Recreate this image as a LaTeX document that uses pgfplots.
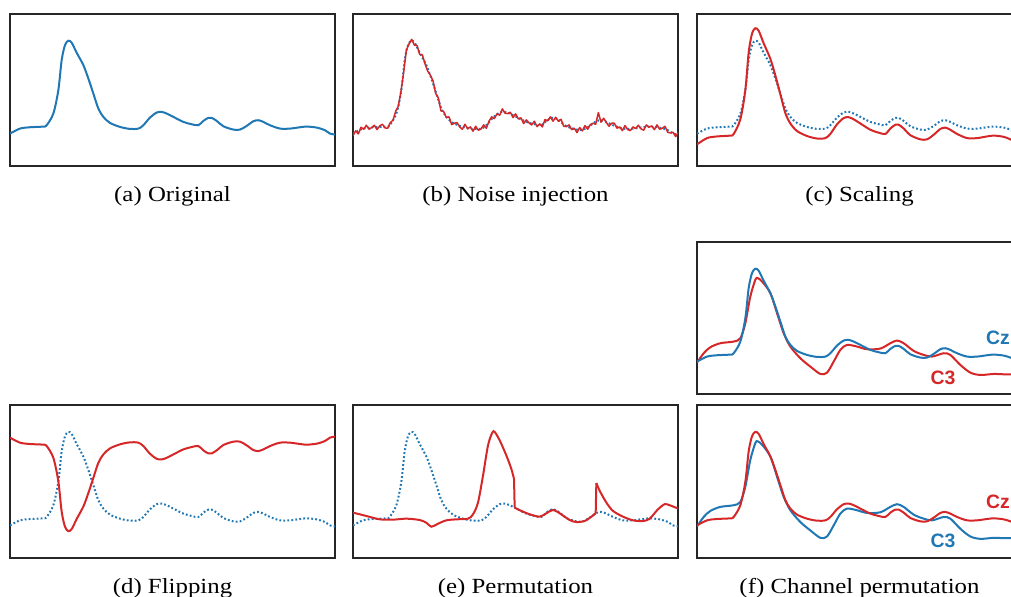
\documentclass[border=0pt]{standalone}
\usepackage{pgfplots}
\usepackage{pgfplotstable}
\pgfplotsset{compat=1.18}
\usepackage{fontspec}
\setmainfont{Liberation Serif}[FakeStretch=1.15]
\setsansfont{Liberation Sans}
\definecolor{cblue}{RGB}{31,119,180}
\definecolor{cred}{RGB}{214,39,40}

\pgfplotstableread{
x y
0 358
30 343
60 339
100 337
110 333
130 298
145 228
155 138
165 93
175 80
185 86
200 116
220 153
235 193
250 238
265 283
280 308
300 326
330 338
360 344
385 343
400 333
420 310
440 295
455 293
470 298
490 308
520 323
545 330
565 333
580 320
595 311
605 311
620 320
640 336
670 346
690 346
710 335
730 321
745 318
760 323
780 333
810 343
840 343
870 339
890 337
920 340
945 348
960 358
975 361
}\orig

\pgfplotstableread{
x y
0 364
8 350
16 359
24 339
32 345
40 333
48 345
56 340
64 333
72 346
80 335
88 330
96 341
104 342
112 325
120 318
128 291
136 276
144 231
152 174
160 108
168 90
176 76
184 93
192 94
200 121
208 122
216 149
224 171
232 183
240 200
248 238
256 251
264 290
272 292
280 310
288 308
296 331
304 327
312 325
320 338
328 345
336 330
344 344
352 338
360 351
368 336
376 348
384 344
392 332
400 342
408 321
416 308
424 313
432 299
440 303
448 284
456 297
464 298
472 294
480 310
488 299
496 314
504 311
512 328
520 317
528 326
536 332
544 321
552 337
560 329
568 338
576 316
584 320
592 308
600 321
608 309
616 321
624 315
632 336
640 337
648 332
656 346
664 342
672 355
680 340
688 350
696 334
704 345
712 331
720 327
728 330
736 295
744 324
752 312
760 325
768 336
776 327
784 327
792 342
800 338
808 349
816 334
824 346
832 349
840 338
848 343
856 333
864 344
872 348
880 332
888 339
896 335
904 346
912 332
920 345
928 342
936 336
944 354
952 356
960 354
968 367
975 355
}\noisy

\pgfplotstableread{
x y
0 390.25
30 371.5
60 366.5
100 364
110 359
130 315.25
145 227.75
155 115.25
165 59
175 42.75
185 50.25
200 87.75
220 134
235 184
250 240.25
265 296.5
280 327.75
300 350.25
330 365.25
360 372.75
385 371.5
400 359
420 330.25
440 311.5
455 309
470 315.25
490 327.75
520 346.5
545 355.25
565 359
580 342.75
595 331.5
605 331.5
620 342.75
640 362.75
670 375.25
690 375.25
710 361.5
730 344
745 340.25
760 346.5
780 359
810 371.5
840 371.5
870 366.5
890 364
920 367.75
945 377.75
960 390.25
975 394
}\scaled

\pgfplotstableread{
x y
0 97
30 112
60 116
100 118
110 122
130 157
145 227
155 317
165 362
175 375
185 369
200 339
220 302
235 262
250 217
265 172
280 147
300 129
330 117
360 111
385 112
400 122
420 145
440 160
455 162
470 157
490 147
520 132
545 125
565 122
580 135
595 144
605 144
620 135
640 119
670 109
690 109
710 120
730 134
745 137
760 132
780 122
810 112
840 112
870 116
890 118
920 115
945 107
960 97
975 94
}\flipped

\pgfplotstableread{
x y
0 320
40 330
80 340
120 341
160 338
200 342
220 350
235 362
255 353
280 343
310 340
345 338
360 325
375 290
390 210
405 120
418 82
425 80
440 105
460 150
475 190
483 220
}\permA

\pgfplotstableread{
x y
485 305
505 315
530 325
560 332
580 322
600 312
620 322
650 342
670 348
695 345
718 330
728 322
}\permB

\pgfplotstableread{
x y
730 232
740 255
760 290
780 315
810 332
840 343
870 345
890 338
915 310
935 295
950 298
975 308
}\permC

\pgfplotstableread{
x y
0 361
20 333
40 315
70 303
110 298
130 288
145 243
160 163
175 113
182 108
195 118
220 153
240 213
260 273
280 313
310 348
340 373
370 395
390 391
410 358
430 323
450 308
480 313
510 321
550 319
580 303
600 295
620 303
650 326
680 338
705 343
740 333
760 338
790 368
820 391
850 398
890 395
920 396
943 396
975 397
}\cthree

\pgfplotsset{
  panel/.style={anchor=south west, width=162.5pt, height=#1, scale only axis,
    xmin=0, xmax=975, ymin=0, ymax=455, y dir=reverse,
    axis line style={line width=0.6pt, black!85}, ticks=none},
  panel/.default=76pt,
  solidb/.style={cblue, line width=1pt, smooth, no marks},
  solidr/.style={cred, line width=1pt, smooth, no marks},
  dotb/.style={cblue, line width=1pt, smooth, no marks, dash pattern=on 0.9pt off 1.1pt},
}
\tikzset{lab/.style={font=\fontsize{9.7}{11}\selectfont\sffamily\bfseries}}

\begin{document}
\begin{tikzpicture}
\path[use as bounding box] (0pt,0pt) rectangle (505.5pt,298pt);
\clip (0pt,0pt) rectangle (505.5pt,298pt);

% (a)
\begin{axis}[panel, at={(5pt,215pt)}]
\addplot[solidb] table[x=x,y=y] {\orig};
\end{axis}
% (b)
\begin{axis}[panel, at={(176.5pt,215pt)}]
\addplot[dotb] table[x=x,y=y] {\orig};
\addplot[cred, line width=0.75pt, line join=round, no marks] table[x=x,y=y] {\noisy};
\end{axis}
% (c)
\begin{axis}[panel, at={(348.5pt,215pt)}]
\addplot[dotb] table[x=x,y=y] {\orig};
\addplot[solidr] table[x=x,y=y] {\scaled};
\end{axis}
% (f) upper
\begin{axis}[panel, at={(348.5pt,101pt)}]
\addplot[solidr] table[x=x,y=y] {\cthree};
\addplot[solidb] table[x=x,y=y] {\orig};
\node[lab, text=cblue] at (axis cs:903,288) {Cz};
\node[lab, text=cred] at (axis cs:738,408) {C3};
\end{axis}
% (d)
\begin{axis}[panel=76.5pt, at={(5pt,19pt)}]
\addplot[dotb] table[x=x,y=y] {\orig};
\addplot[solidr] table[x=x,y=y] {\flipped};
\end{axis}
% (e)
\begin{axis}[panel=76.5pt, at={(176.5pt,19pt)}]
\addplot[dotb] table[x=x,y=y] {\orig};
\addplot[solidr] table[x=x,y=y] {\permA};
\addplot[cred, line width=1pt, no marks] coordinates {(483,220) (485,305)};
\addplot[solidr] table[x=x,y=y] {\permB};
\addplot[cred, line width=1pt, no marks] coordinates {(728,322) (730,232)};
\addplot[solidr] table[x=x,y=y] {\permC};
\end{axis}
% (f) lower
\begin{axis}[panel=76.5pt, at={(348.5pt,19pt)}]
\addplot[solidb] table[x=x,y=y] {\cthree};
\addplot[solidr] table[x=x,y=y] {\orig};
\node[lab, text=cred] at (axis cs:903,288) {Cz};
\node[lab, text=cblue] at (axis cs:738,405) {C3};
\end{axis}

\begin{scope}[every node/.style={anchor=base, inner sep=0pt, font=\fontsize{10.8}{13}\selectfont}]
\node at (86.25pt,197.25pt) {(a) Original};
\node at (257.75pt,197.25pt) {(b) Noise injection};
\node at (429.75pt,197.25pt) {(c) Scaling};
\node at (86.25pt,1.25pt) {(d) Flipping};
\node at (257.75pt,1.25pt) {(e) Permutation};
\node at (429.75pt,1.25pt) {(f) Channel permutation};
\end{scope}
\end{tikzpicture}
\end{document}
